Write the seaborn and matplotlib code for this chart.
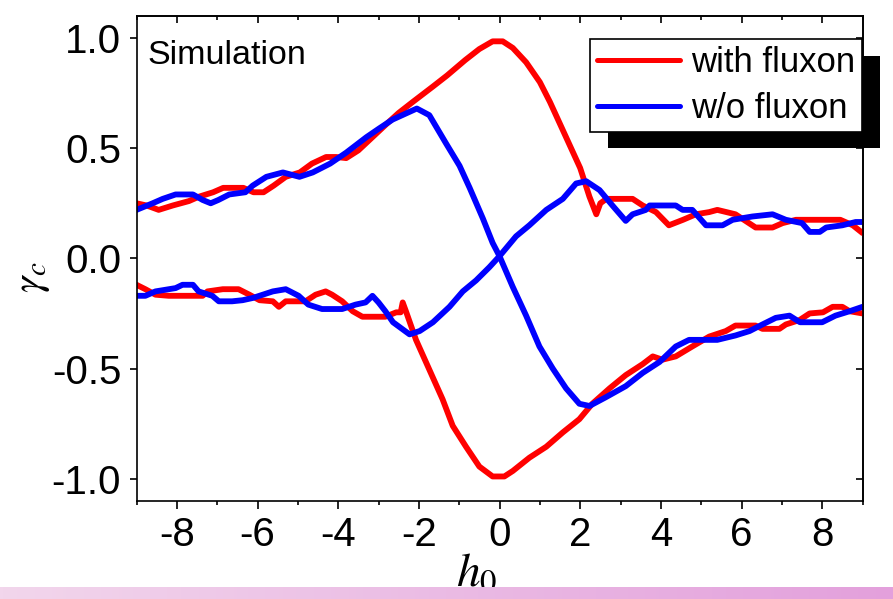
import numpy as np
import pandas as pd
import seaborn as sns
import matplotlib.pyplot as plt
from matplotlib.lines import Line2D
from matplotlib.patches import Rectangle

# upper / lower branch of the critical current, with fluxon
h_red_up = [-9, -8.75, -8.45, -8.1, -7.7, -7.45, -7.1, -6.85, -6.35, -6.1,
            -5.85, -5.6, -5.3, -4.95, -4.65, -4.3, -4.05, -3.8, -3.5, -3.15,
            -2.8, -2.5, -2.15, -1.65, -1.3, -0.85, -0.5, -0.17, 0.08, 0.33,
            0.66, 1.0, 1.25, 1.5, 1.75, 2.0, 2.23, 2.4, 2.5, 2.65,
            3.3, 3.55, 3.88, 4.2, 4.55, 4.87, 5.2, 5.4, 5.85, 6.35,
            6.77, 7.02, 7.35, 8.45, 8.76, 9]
g_red_up = [0.25, 0.24, 0.22, 0.24, 0.26, 0.28, 0.30, 0.32, 0.32, 0.30,
            0.30, 0.33, 0.37, 0.39, 0.43, 0.46, 0.46, 0.455, 0.49, 0.55,
            0.61, 0.66, 0.71, 0.78, 0.83, 0.90, 0.95, 0.985, 0.985, 0.955,
            0.89, 0.80, 0.71, 0.61, 0.51, 0.41, 0.28, 0.20, 0.25, 0.27,
            0.27, 0.24, 0.21, 0.15, 0.175, 0.20, 0.21, 0.22, 0.20, 0.14,
            0.14, 0.16, 0.175, 0.175, 0.15, 0.115]

h_red_lo = [-9, -8.78, -8.53, -8.2, -7.36, -7.24, -6.86, -6.47, -6.2, -5.95,
            -5.62, -5.47, -5.3, -4.81, -4.56, -4.31, -4.15, -3.9, -3.64, -3.4,
            -2.83, -2.56, -2.45, -2.4, -2.32, -2.07, -1.74, -1.41, -1.16, -0.83,
            -0.5, -0.17, 0.12, 0.33, 0.74, 1.16, 1.57, 1.98, 2.3, 2.73,
            3.13, 3.55, 3.8, 4.04, 4.37, 4.78, 5.2, 5.61, 5.85, 6.35,
            6.52, 6.94, 7.1, 7.44, 7.69, 8.02, 8.26, 8.5, 8.68, 9]
g_red_lo = [-0.12, -0.14, -0.165, -0.17, -0.17, -0.15, -0.14, -0.14, -0.165, -0.19,
            -0.195, -0.22, -0.195, -0.195, -0.165, -0.15, -0.165, -0.195, -0.24, -0.265,
            -0.265, -0.245, -0.245, -0.20, -0.24, -0.37, -0.505, -0.64, -0.76, -0.855,
            -0.945, -0.99, -0.99, -0.965, -0.905, -0.855, -0.79, -0.73, -0.66, -0.59,
            -0.53, -0.48, -0.445, -0.46, -0.445, -0.40, -0.355, -0.33, -0.305, -0.305,
            -0.32, -0.32, -0.30, -0.28, -0.25, -0.245, -0.22, -0.22, -0.24, -0.25]

# without fluxon
h_blue_a = [-9, -8.6, -8.35, -8.03, -7.6, -7.36, -7.16, -6.97, -6.7, -6.3,
            -6.12, -5.78, -5.37, -4.96, -4.63, -4.2, -3.8, -3.3, -2.98, -2.65,
            -2.23, -2.05, -1.74, -1.32, -0.99, -0.74, -0.41, -0.17, 0.0, 0.33,
            0.66, 0.99, 1.32, 1.65, 1.98, 2.23, 2.64, 3.13, 3.55, 3.97,
            4.37, 4.7, 5.2, 5.4, 5.85, 6.2, 6.52, 6.85, 7.19, 7.45,
            7.69, 8.0, 8.33, 8.68, 9]
g_blue_a = [0.22, 0.25, 0.27, 0.29, 0.29, 0.265, 0.25, 0.265, 0.29, 0.30,
            0.33, 0.37, 0.39, 0.37, 0.39, 0.43, 0.48, 0.55, 0.59, 0.63,
            0.665, 0.68, 0.65, 0.52, 0.42, 0.32, 0.18, 0.07, 0.01, -0.13,
            -0.26, -0.40, -0.50, -0.59, -0.66, -0.67, -0.63, -0.58, -0.52, -0.47,
            -0.40, -0.37, -0.37, -0.37, -0.35, -0.33, -0.30, -0.27, -0.26, -0.29,
            -0.29, -0.29, -0.26, -0.24, -0.22]

h_blue_b = [-9, -8.78, -8.53, -8.03, -7.86, -7.6, -7.46, -7.12, -6.96, -6.63,
            -6.37, -6.12, -5.87, -5.62, -5.3, -4.98, -4.74, -4.4, -3.9, -3.57,
            -3.32, -3.15, -3.0, -2.83, -2.64, -2.23, -1.98, -1.65, -1.24, -0.91,
            -0.58, -0.25, 0.0, 0.41, 0.74, 1.16, 1.57, 1.90, 2.15, 2.48,
            2.80, 3.13, 3.3, 3.63, 3.72, 4.37, 4.54, 4.78, 5.12, 5.53,
            5.78, 6.27, 6.77, 7.1, 7.5, 7.69, 7.94, 8.1, 8.5, 8.83, 9]
g_blue_b = [-0.17, -0.17, -0.15, -0.135, -0.12, -0.12, -0.15, -0.17, -0.195, -0.195,
            -0.19, -0.18, -0.165, -0.15, -0.14, -0.17, -0.21, -0.23, -0.23, -0.21,
            -0.20, -0.17, -0.20, -0.24, -0.29, -0.345, -0.33, -0.29, -0.22, -0.15,
            -0.10, -0.04, 0.01, 0.10, 0.15, 0.22, 0.27, 0.34, 0.35, 0.31,
            0.24, 0.17, 0.20, 0.22, 0.24, 0.24, 0.22, 0.22, 0.15, 0.15,
            0.175, 0.19, 0.20, 0.175, 0.16, 0.12, 0.12, 0.14, 0.15, 0.165, 0.165]

labels = ['with fluxon', 'w/o fluxon']
colors = {'with fluxon': '#ff0000', 'w/o fluxon': '#0000ff'}

parts = []
for name, branch, hx, gy in [('with fluxon', 'r1', h_red_up, g_red_up),
                             ('with fluxon', 'r2', h_red_lo, g_red_lo),
                             ('w/o fluxon', 'b1', h_blue_a, g_blue_a),
                             ('w/o fluxon', 'b2', h_blue_b, g_blue_b)]:
    parts.append(pd.DataFrame({'h0': hx, 'gamma': gy, 'curve': name, 'branch': branch}))
df = pd.concat(parts, ignore_index=True)

sns.set_style('ticks')
plt.rcParams['font.family'] = ['Liberation Sans', 'DejaVu Sans']
plt.rcParams['mathtext.fontset'] = 'stix'
for k in ['text.color', 'axes.labelcolor', 'xtick.color', 'ytick.color', 'axes.edgecolor']:
    plt.rcParams[k] = 'black'

fig = plt.figure(figsize=(8.93, 5.99), dpi=100)
ax = fig.add_axes([136.5 / 893, 1 - 500.7 / 599, 726 / 893, 484.7 / 599])

sns.lineplot(data=df, x='h0', y='gamma', hue='curve', units='branch', estimator=None,
             sort=False, palette=colors, linewidth=4.2, legend=False, ax=ax)

ax.set_xlim(-9, 9)
ax.set_ylim(-1.1, 1.1)
ax.set_xticks([-8, -6, -4, -2, 0, 2, 4, 6, 8])
ax.set_xticks(np.arange(-9, 10, 2), minor=True)
ax.set_yticks([-1.0, -0.5, 0.0, 0.5, 1.0])
ax.set_yticklabels(['-1.0', '-0.5', '0.0', '0.5', '1.0'])
ax.set_xticklabels(['-8', '-6', '-4', '-2', '0', '2', '4', '6', '8'])

for s in ax.spines.values():
    s.set_color('black')
    s.set_linewidth(1.2)
ax.tick_params(axis='both', which='major', labelsize=29, color='black', width=1.2)
ax.tick_params(axis='x', which='major', direction='out', length=6, pad=5)
ax.tick_params(axis='x', which='minor', direction='out', length=3, width=1.2)
ax.tick_params(axis='y', which='major', direction='out', length=5, pad=6)
# inward ticks on the top and right spines
sec_x = ax.secondary_xaxis('top')
sec_x.set_xticks([-8, -6, -4, -2, 0, 2, 4, 6, 8])
sec_x.set_xticks(np.arange(-9, 10, 2), minor=True)
sec_x.tick_params(which='major', direction='in', length=5, width=1.2, labeltop=False)
sec_x.tick_params(which='minor', direction='in', length=3, width=1.2)
sec_x.spines['top'].set_linewidth(1.2)
sec_y = ax.secondary_yaxis('right')
sec_y.set_yticks([-1.0, -0.5, 0.0, 0.5, 1.0])
sec_y.tick_params(direction='in', length=5, width=1.2, labelright=False)
sec_y.spines['right'].set_linewidth(1.2)

ax.set_xlabel('$h_0$', fontsize=34)
ax.xaxis.set_label_coords((477 - 136.5) / 726, -0.105)
ax.set_ylabel(r'$\gamma_c$', fontsize=30)
ax.yaxis.set_label_coords((52 - 136.5) / 726, 0.46)

ax.text((147 - 136.5) / 726, (500.7 - 63.5) / 484.7, 'Simulation', transform=ax.transAxes,
        fontsize=24.5, ha='left', va='baseline')

handles = [Line2D([], [], color=colors[l], linewidth=3.6) for l in labels]
leg = ax.legend(handles, labels, loc='upper left', bbox_to_anchor=(590 / 893, 1 - 39 / 599),
                bbox_transform=fig.transFigure, fontsize=25, frameon=True, fancybox=False,
                handlelength=2.4, handletextpad=0.3, labelspacing=0.38, borderpad=0.2,
                borderaxespad=0)
leg.get_frame().set_edgecolor('black')
leg.get_frame().set_linewidth(1.2)
leg.get_frame().set_alpha(1)
leg.set_zorder(6)
# black drop shadow behind the legend box
ax.add_patch(Rectangle((608 / 893, 1 - 148 / 599), 272 / 893, 92 / 599, transform=fig.transFigure,
                       facecolor='black', edgecolor='none', clip_on=False, zorder=5))

# pink gradient strip along the bottom edge
bar = fig.add_axes([0, 0, 1, 12.5 / 599])
bar.set_zorder(10)
c0 = np.array([242, 214, 236]) / 255
c1 = np.array([227, 160, 220]) / 255
t = np.linspace(0, 1, 256)[None, :, None]
bar.imshow(c0 + (c1 - c0) * t, aspect='auto', extent=(0, 1, 0, 1))
bar.set_axis_off()

fig.savefig('out.png', dpi=100)
